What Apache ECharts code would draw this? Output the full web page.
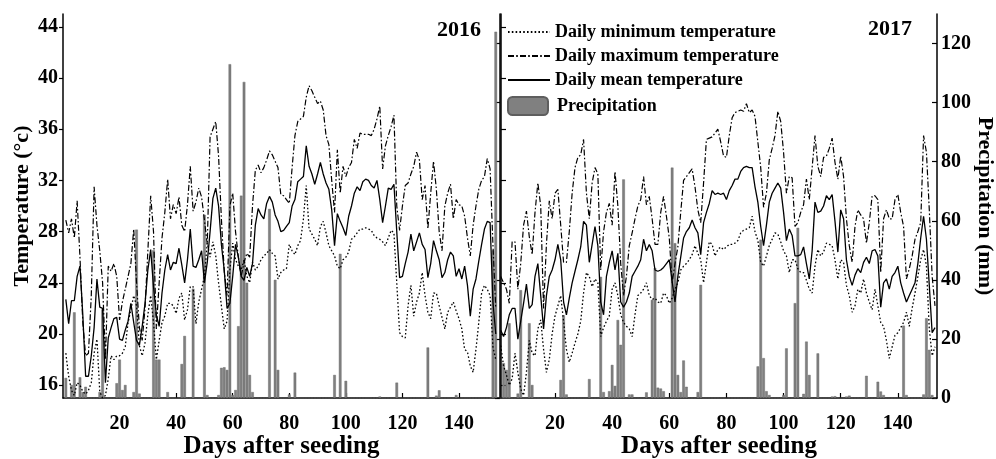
<!DOCTYPE html>
<html><head><meta charset="utf-8">
<script src="https://cdn.jsdelivr.net/npm/echarts@6/dist/echarts.min.js"></script>
<style>html,body{margin:0;padding:0;background:#fff}#c{width:996px;height:459px}</style>
</head><body><div id="c"></div>
<script>
const tempTicks=[16,20,24,28,32,36,40,44];
const precTicks=[0,20,40,60,80,100,120];
const dayTicks=[20,40,60,80,100,120,140];
const names=['Daily minimum temperature','Daily maximum temperature','Daily mean temperature','Precipitation'];
const years=['2016','2017'];

const tmax16=[28.9,27.9,29.0,27.5,30.4,26.0,20.9,18.3,18.5,23.0,
31.5,28.5,26.5,24.0,18.0,25.3,24.9,25.5,24.5,21.1,
22.5,23.5,24.5,25.5,28.2,24.0,20.5,19.5,22.0,26.5,
30.8,28.0,20.4,24.0,27.5,29.5,32.1,29.0,30.1,29.4,
30.7,28.5,28.0,30.1,33.1,29.6,30.3,31.4,30.7,28.9,
27.0,35.4,36.0,36.6,33.9,29.0,24.9,23.0,30.0,31.0,
28.0,26.0,24.5,25.6,26.3,26.0,30.0,32.8,33.2,32.6,
33.0,33.6,34.3,34.0,33.5,33.0,30.9,30.8,30.5,30.2,
33.0,35.5,36.6,36.8,37.0,38.5,39.4,39.0,38.5,38.0,
38.2,37.5,35.5,34.8,32.0,29.5,34.4,31.0,33.1,32.3,
33.0,33.4,35.2,34.5,35.7,35.6,35.6,35.6,35.5,36.0,
36.8,37.8,32.9,34.7,35.5,36.2,37.1,30.0,28.1,30.0,
31.6,31.8,32.5,33.1,34.2,33.6,30.5,31.6,28.2,31.0,
33.5,31.3,28.0,26.5,30.0,31.0,31.7,29.0,30.5,30.1,
30.0,29.2,27.5,26.1,28.5,30.0,31.3,32.0,32.3,33.7,
32.9,27.0,22.0];
const tmean16=[22.7,20.8,22.6,22.6,24.5,25.3,21.5,16.7,16.7,18.3,
20.5,24.3,22.1,22.0,16.2,19.7,20.5,21.2,21.3,19.6,
19.5,20.3,21.0,22.4,20.9,19.5,19.1,20.6,22.4,25.0,
26.6,23.7,21.5,20.6,23.2,25.0,26.2,25.0,25.6,25.5,
26.7,25.4,24.0,25.8,28.2,25.3,25.2,25.8,26.5,24.0,
25.6,28.0,30.6,31.4,30.0,27.0,25.0,22.0,22.4,24.5,
27.0,26.0,24.5,24.2,25.2,24.5,25.5,28.5,29.8,29.3,
29.0,30.2,30.75,30.3,29.3,28.8,28.0,28.1,28.4,28.7,
30.0,30.5,31.9,32.1,32.3,34.7,33.1,32.5,31.7,32.5,
33.4,32.5,31.8,31.3,29.7,26.9,29.4,28.8,28.3,27.7,
29.2,30.0,31.0,31.5,31.2,31.9,32.1,32.0,31.6,31.4,
32.0,30.5,28.7,30.0,31.4,31.3,31.7,28.0,24.4,24.5,
25.5,26.4,27.8,26.5,27.2,27.9,27.0,26.6,24.4,25.5,
27.3,26.5,25.8,24.4,24.8,25.8,26.4,26.1,24.5,25.1,
24.3,25.3,23.8,21.4,23.5,24.3,25.7,27.0,28.2,28.8,
28.7,22.5,20.0];
const tmin16=[18.5,16.7,15.6,15.2,16.2,16.0,15.5,15.3,15.6,16.2,
18.5,19.6,15.5,15.0,15.2,16.5,18.3,18.0,18.3,18.3,
18.5,19.0,20.9,21.9,23.0,22.2,19.1,18.3,19.3,21.5,
23.0,20.9,18.0,19.5,20.9,21.4,22.4,22.4,22.2,21.6,
22.8,23.2,21.1,21.9,23.7,23.7,20.8,22.5,23.5,24.5,
27.1,26.0,27.2,26.1,24.0,22.2,20.4,21.0,25.0,27.1,
25.8,25.3,25.0,25.8,24.5,24.0,25.6,25.0,25.3,25.8,
26.1,26.3,26.6,26.3,26.1,24.3,24.8,25.0,25.1,27.0,
26.5,26.2,26.9,27.3,29.0,31.6,28.2,27.8,27.4,26.9,
28.4,28.8,27.9,26.9,26.5,26.1,25.3,25.1,25.8,26.0,
26.4,27.4,27.6,27.9,28.2,28.2,28.3,28.2,28.1,27.7,
27.5,27.4,27.2,26.9,27.5,28.1,27.9,24.0,20.1,19.8,
19.7,22.2,23.8,21.4,22.5,23.2,24.8,23.0,21.7,21.2,
23.2,23.2,22.2,21.3,20.4,21.7,22.1,22.5,21.8,21.2,
20.4,18.8,18.6,17.5,17.0,18.8,20.9,23.2,23.8,23.5,
23.0,19.0,18.0];
const prec16=[6.8,0,4.4,29,0,7,2,3.8,0,0,
0,0,2,30,0,0,0,0,5,13,
2.7,4.4,0,0,2,57,1.5,0,0,0,
0,50,13,13,0,0,2,0,0,0,
0,11.5,21,0,0,37,0,0,0,62,
1,0,0,0,1,10.2,10.4,9.5,113,1,
2.7,24.3,68.5,107,39,7.8,2,0,0,0,
0,0,64,0,40,9.5,0,0,0,1.2,
0,8.6,0,0,0,0,0,0,0,0,
0,0,0,0,0,7.8,0,48.8,0,5.8,
0,0,0,0,0,0,0,0,0,0,
0,0.5,0,0,0,0,0,5.2,0,0,
0,0,0,0,0,0,0,0,17.1,0,
0,0.8,2.6,0,0,0,0,0,1,0,
0,0,0,0,0,0,0,0,0,0,
0,50,124];

const tmax17=[24.5,24.0,23.5,22.4,27.2,27.2,23.5,25.5,28.5,29.6,
27.6,26.2,29.5,31.8,30.0,22.0,27.0,30.4,29.0,31.0,
31.3,28.5,25.6,25.6,28.0,31.0,33.0,33.8,34.0,35.2,
31.0,29.0,31.8,33.0,32.5,25.0,28.0,29.5,30.2,28.5,
32.7,30.0,25.5,23.0,24.5,26.9,27.9,29.0,30.0,30.5,
32.3,30.1,30.75,29.0,27.0,27.0,29.5,30.75,29.2,27.5,
24.0,25.5,26.8,29.5,32.0,32.3,32.6,32.9,31.5,29.7,
28.7,31.8,35.2,35.3,35.4,35.7,36.0,35.0,33.9,33.8,
35.5,36.9,37.3,37.4,37.5,37.4,38.0,37.3,37.5,37.0,
35.0,33.0,29.9,31.0,33.6,34.5,35.5,37.4,36.6,34.2,
31.0,32.3,32.2,28.4,28.7,29.5,30.1,32.1,30.5,33.0,
35.5,33.1,32.3,33.8,33.9,34.5,35.3,33.4,32.1,33.9,
32.3,29.0,26.9,25.6,28.4,29.7,29.3,29.0,27.1,28.7,
30.8,30.8,30.5,24.8,29.0,29.7,29.0,29.0,30.5,30.9,
29.5,28.4,24.3,25.1,26.1,27.4,28.0,28.7,35.5,34.2,
29.7,24.5,22.2];
const tmean17=[20.3,19.8,20.5,21.5,22.0,22.0,19.6,21.0,22.4,23.9,
22.0,22.3,24.5,25.5,23.0,20.4,23.0,24.5,25.0,25.8,
27.0,25.8,22.5,21.5,22.8,24.0,24.9,25.8,26.8,28.8,
28.5,25.6,27.0,28.4,26.9,22.5,21.5,24.5,25.6,26.5,
25.0,26.3,22.5,22.1,22.5,23.2,24.5,24.9,25.3,25.8,
27.4,26.5,27.0,26.5,25.0,24.9,25.0,25.2,25.5,25.8,
24.1,22.5,24.5,26.0,27.5,28.0,28.3,28.9,28.3,27.9,
26.2,28.7,29.5,30.2,31.2,30.9,31.0,30.9,31.0,30.5,
31.2,31.6,32.1,32.1,32.7,33.0,33.1,33.0,33.0,31.5,
30.3,28.4,26.9,28.5,30.3,31.0,31.4,31.8,31.4,29.5,
27.3,28.2,27.7,26.1,26.1,26.2,26.8,25.5,24.3,26.5,
30.3,29.5,29.6,30.0,30.8,30.5,30.9,28.8,26.4,29.7,
29.0,25.8,24.5,23.8,24.6,25.1,24.8,25.6,26.0,25.5,
26.5,26.6,26.1,22.1,24.0,24.3,23.5,24.5,24.8,25.3,
24.0,23.2,22.5,23.0,23.5,24.0,25.5,27.5,29.2,27.4,
23.8,20.1,20.5];
const tmin17=[19.1,17.5,16.8,16.0,16.5,18.5,17.0,15.7,15.2,17.0,
19.5,18.5,18.3,20.4,21.1,18.8,17.0,18.0,20.0,21.4,
22.2,23.0,21.0,18.8,17.8,18.5,19.3,20.0,21.0,23.2,
24.8,24.5,23.7,24.3,24.0,19.8,20.5,21.0,21.4,23.5,
24.0,23.0,21.5,20.9,20.6,20.4,19.8,21.5,23.0,23.2,
23.5,24.0,23.0,22.7,22.8,22.5,22.4,23.2,23.0,22.4,
22.8,23.5,24.0,25.0,25.3,25.5,25.8,26.2,26.9,26.3,
25.8,24.0,25.6,27.2,27.0,26.1,26.6,26.8,26.6,26.8,
27.0,27.0,27.1,27.3,27.9,28.1,28.2,28.3,29.2,28.0,
27.3,25.6,25.3,26.1,26.9,27.4,27.9,27.8,27.2,26.5,
26.1,24.8,25.8,25.8,25.1,24.8,24.8,24.2,23.5,23.2,
25.3,26.6,26.1,26.4,27.1,27.0,26.9,25.8,24.3,25.8,
25.6,23.8,23.0,21.7,22.2,23.5,23.2,24.3,23.2,22.5,
21.9,23.5,22.2,20.9,20.6,19.5,18.1,19.0,19.9,20.1,
20.5,20.9,21.7,20.6,22.0,23.2,24.5,25.8,26.6,25.3,
20.4,18.3,19.0];
const prec17=[0,11.8,9.5,25.3,0,0,1.5,36.5,0,0,
25.3,4.4,0,0,0,0,0,0,0,0,
0,6.1,28,1.2,0,0,0,0,0,0,
0,6.4,0,0,0,41,2,0,2.3,11.2,
4.1,26.4,18,74,0,1.2,1.2,0,0,0,
0,1.9,0,33.2,44,3.5,3.2,2.3,0,0,
78,52.4,7.8,2,12.7,3.8,0,0,0,2,
38.3,0,0,0,0,0,0,0,0,0,
0,0,0,0,0,0,0,0,0,0,
10.7,53.6,13.5,2.3,1,0,0,0,0,1,
16.8,0,0,32.1,57.6,0,1.4,19.1,7.8,0,
0,15.1,0,0,0,0,0.5,0.6,0,0,
0,0.5,0.8,0,0,0,0,0,7.5,0,
0,0,5.5,2.2,1,0,0,0,0,0,
0,24.5,1,0,0,0,0,0,1.2,27,
16.3,1,0];

const FONT="'Liberation Serif','Times New Roman',serif";
const DOT=[1.6,2.2];
const DASHDOT=[6,2.2,1.6,2.2];

function pairs(arr){return arr.map((v,i)=>[i+1,v]);}
function lineS(name,arr,xi,yi,type,w){
  return {type:'line',name:name,data:pairs(arr),xAxisIndex:xi,yAxisIndex:yi,
    symbol:'none',showSymbol:false,z:3,
    lineStyle:{color:'#000',width:w,type:type},itemStyle:{color:'#000'}};
}
function barS(arr,xi,yi){
  return {type:'bar',name:names[3],data:pairs(arr),xAxisIndex:xi,yAxisIndex:yi,
    barWidth:2.6,z:2,
    itemStyle:{color:'#808080',borderColor:'#5e5e5e',borderWidth:0.4}};
}
const axisLineS={show:true,lineStyle:{color:'#000',width:1.5}};
const tickLbl={color:'#000',fontFamily:FONT,fontWeight:'bold',fontSize:20};

function xAx(gi,min,max){
  return {type:'value',gridIndex:gi,min:min,max:max,
    axisLine:axisLineS,splitLine:{show:false},
    axisTick:{inside:true,length:5,customValues:dayTicks,lineStyle:{color:'#000',width:1.2}},
    axisLabel:Object.assign({customValues:dayTicks,margin:16},tickLbl),
    name:'Days after seeding',nameLocation:'middle',nameGap:36,nameMoveOverlap:false,
    nameTextStyle:{color:'#000',fontFamily:FONT,fontWeight:'bold',fontSize:25}};
}

const option={
  animation:false,
  backgroundColor:'#fff',
  grid:[{left:63,top:14,width:437,height:384,outerBoundsMode:'none',containLabel:false},
        {left:501,top:14,width:436,height:384,outerBoundsMode:'none',containLabel:false}],
  xAxis:[xAx(0,0,154.5),xAx(1,1.1,153.7)],
  yAxis:[
    {type:'value',gridIndex:0,position:'left',min:15,max:45,
     axisLine:axisLineS,splitLine:{show:false},
     axisTick:{inside:false,length:4,customValues:tempTicks,lineStyle:{color:'#000',width:1.2}},
     axisLabel:Object.assign({customValues:tempTicks,margin:5},tickLbl),
     name:'Temperature (°c)',nameLocation:'middle',nameRotate:90,nameGap:30,nameMoveOverlap:false,
     nameTextStyle:{color:'#000',fontFamily:FONT,fontWeight:'bold',fontSize:22}},
    {type:'value',gridIndex:0,position:'right',min:0,max:130,
     axisLine:axisLineS,splitLine:{show:false},
     axisTick:{inside:true,length:5,customValues:precTicks,lineStyle:{color:'#000',width:1.2}},
     axisLabel:{show:false}},
    {type:'value',gridIndex:1,position:'left',min:15,max:45,
     axisLine:axisLineS,splitLine:{show:false},
     axisTick:{inside:true,length:5,customValues:tempTicks,lineStyle:{color:'#000',width:1.2}},
     axisLabel:{show:false}},
    {type:'value',gridIndex:1,position:'right',min:0,max:130,
     axisLine:axisLineS,splitLine:{show:false},
     axisTick:{inside:true,length:5,customValues:precTicks,lineStyle:{color:'#000',width:1.2}},
     axisLabel:Object.assign({customValues:precTicks,margin:4},tickLbl),
     name:'Precipitation (mm)',nameLocation:'middle',nameRotate:-90,nameGap:37,nameMoveOverlap:false,
     nameTextStyle:{color:'#000',fontFamily:FONT,fontWeight:'bold',fontSize:22}}
  ],
  legend:[
    {data:[names[0],names[1],names[2]],orient:'vertical',left:507,top:23,padding:0,
     itemWidth:42,itemHeight:14,itemGap:6,selectedMode:false,
     itemStyle:{opacity:0},
     textStyle:{color:'#000',fontFamily:FONT,fontWeight:'bold',fontSize:18}},
    {data:[names[3]],orient:'vertical',left:507,top:96,padding:0,
     itemWidth:40,itemHeight:18,selectedMode:false,
     textStyle:{color:'#000',fontFamily:FONT,fontWeight:'bold',fontSize:18,padding:[0,0,0,4]}}
  ],
  graphic:[
    {type:'text',left:437,top:19,style:{text:years[0],fill:'#000',font:"bold 22px "+FONT}},
    {type:'text',left:868,top:18,style:{text:years[1],fill:'#000',font:"bold 22px "+FONT}}
  ],
  series:[
    barS(prec16,0,1),
    lineS(names[0],tmin16,0,0,DOT,1.3),
    lineS(names[1],tmax16,0,0,DASHDOT,1.2),
    lineS(names[2],tmean16,0,0,'solid',1.3),
    barS(prec17,1,3),
    lineS(names[0],tmin17,1,2,DOT,1.3),
    lineS(names[1],tmax17,1,2,DASHDOT,1.2),
    lineS(names[2],tmean17,1,2,'solid',1.3)
  ]
};
const chart=echarts.init(document.getElementById('c'),null,{renderer:'canvas'});
chart.setOption(option);
</script></body></html>
